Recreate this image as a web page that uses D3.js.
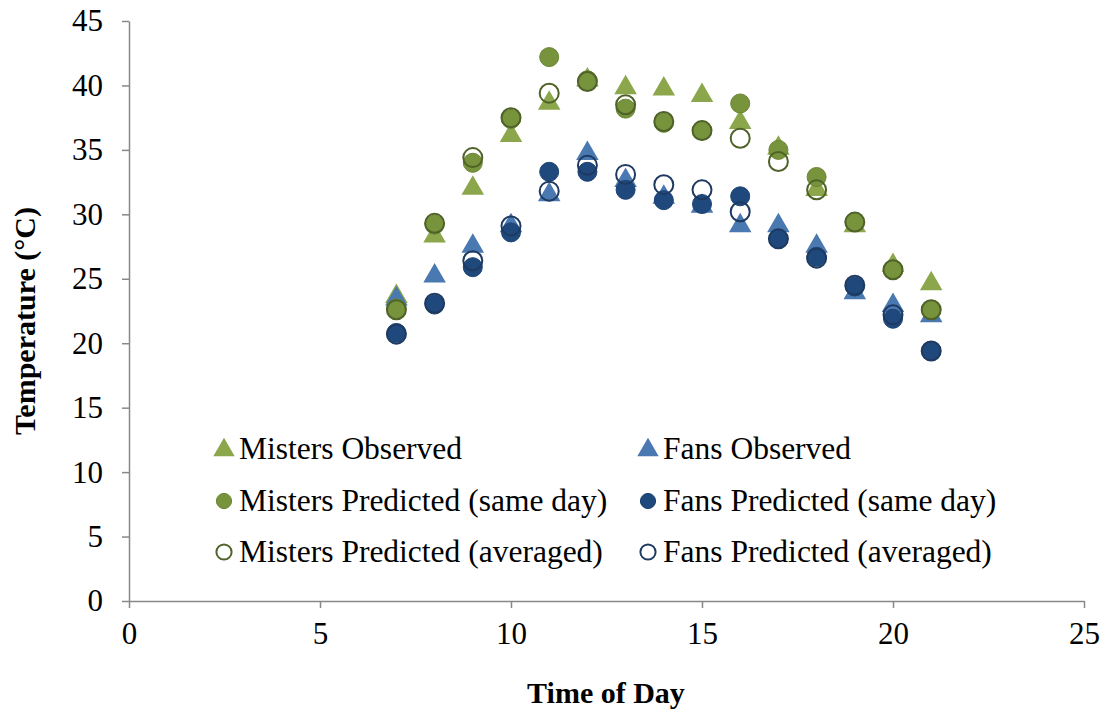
<!DOCTYPE html>
<html>
<head>
<meta charset="utf-8">
<script src="https://cdn.jsdelivr.net/npm/d3@7"></script>
<style>
  html, body { margin: 0; padding: 0; background: #fff; }
  svg { display: block; }
  text { font-family: "Liberation Serif", "Times New Roman", serif; fill: #000; }
</style>
</head>
<body>
<svg id="chart" width="1108" height="713"></svg>
<script>
const hours = [7, 8, 9, 10, 11, 12, 13, 14, 15, 16, 17, 18, 19, 20, 21];
const mistersObserved = [23.7, 28.4, 32.1, 36.2, 38.7, 40.5, 39.9, 39.8, 39.3, 37.2, 35.2, 32.0, 29.2, 26.1, 24.7];
const fansObserved = [23.5, 25.3, 27.6, 29.2, 31.6, 34.8, 32.7, 31.4, 30.7, 29.2, 29.2, 27.6, 24.0, 23.0, 22.2];
const mistersPredSame = [22.7, 29.2, 34.0, 37.4, 42.2, 40.4, 38.2, 37.1, 36.5, 38.6, 35.0, 32.9, 29.4, 25.7, 22.6];
const fansPredSame = [20.8, 23.0, 25.9, 28.6, 33.3, 33.3, 31.9, 31.1, 30.8, 31.4, 28.1, 26.7, 24.4, 21.9, 19.4];
const mistersPredAvg = [22.6, 29.3, 34.4, 37.5, 39.4, 40.3, 38.5, 37.2, 36.5, 35.9, 34.1, 31.9, 29.4, 25.7, 22.6];
const fansPredAvg = [20.7, 23.1, 26.4, 29.1, 31.8, 33.8, 33.1, 32.3, 31.9, 30.2, 28.1, 26.6, 24.5, 22.2, 19.4];
const xTicks = [0, 5, 10, 15, 20, 25];
const yTicks = [0, 5, 10, 15, 20, 25, 30, 35, 40, 45];

const series = [
  { name: "Misters Observed", values: mistersObserved, shape: "triangle", fill: "#8BA64B", stroke: "none" },
  { name: "Fans Observed", values: fansObserved, shape: "triangle", fill: "#4A78B0", stroke: "none" },
  { name: "Misters Predicted (same day)", values: mistersPredSame, shape: "circle", fill: "#77933C", stroke: "#6A8535" },
  { name: "Fans Predicted (same day)", values: fansPredSame, shape: "circle", fill: "#1F497D", stroke: "#1C4272" },
  { name: "Misters Predicted (averaged)", values: mistersPredAvg, shape: "circle", fill: "none", stroke: "#4F6228" },
  { name: "Fans Predicted (averaged)", values: fansPredAvg, shape: "circle", fill: "none", stroke: "#1F3A60" }
];

const svg = d3.select("#chart");
const x = d3.scaleLinear().domain([0, 25]).range([129, 1084]);
const y = d3.scaleLinear().domain([0, 45]).range([601, 21]);

const axisColor = "#888888";
const tickFont = 31;

// Y axis
const yAxis = svg.append("g").attr("transform", `translate(${x(0)},0)`)
  .call(d3.axisLeft(y).tickValues(yTicks).tickSize(7).tickSizeOuter(0).tickPadding(19));
yAxis.select(".domain").attr("stroke", axisColor).attr("stroke-width", 1.5);
yAxis.selectAll(".tick line").attr("stroke", axisColor).attr("stroke-width", 1.5);
yAxis.selectAll(".tick text").attr("font-size", tickFont).attr("font-family", "Liberation Serif, serif").attr("fill", "#000");

// X axis
const xAxis = svg.append("g").attr("transform", `translate(0,${y(0)})`)
  .call(d3.axisBottom(x).tickValues(xTicks).tickSize(7).tickSizeOuter(0).tickPadding(14));
xAxis.select(".domain").attr("stroke", axisColor).attr("stroke-width", 1.5);
xAxis.selectAll(".tick line").attr("stroke", axisColor).attr("stroke-width", 1.5);
xAxis.selectAll(".tick text").attr("font-size", tickFont).attr("font-family", "Liberation Serif, serif").attr("fill", "#000");

// Axis titles
svg.append("text")
  .attr("transform", `translate(35,${(y(0) + y(45)) / 2 + 10}) rotate(-90)`)
  .attr("text-anchor", "middle")
  .attr("font-size", 30).attr("font-weight", "bold")
  .text("Temperature (°C)");
svg.append("text")
  .attr("x", 606).attr("y", 703)
  .attr("text-anchor", "middle")
  .attr("font-size", 30).attr("font-weight", "bold")
  .text("Time of Day");

const triSize = 220; // area for d3.symbolTriangle
const circR = 9.5;

function drawMarker(g, s, cx, cy, scale) {
  if (s.shape === "triangle") {
    g.append("path")
      .attr("d", d3.symbol().type(d3.symbolTriangle).size(triSize * scale * scale)())
      .attr("transform", `translate(${cx},${cy + 1})`)
      .attr("fill", s.fill);
  } else {
    g.append("circle")
      .attr("cx", cx).attr("cy", cy).attr("r", circR * scale)
      .attr("fill", s.fill)
      .attr("stroke", s.stroke)
      .attr("stroke-width", s.fill === "none" ? 2 : 1);
  }
}

const plot = svg.append("g");
series.forEach(s => {
  const g = plot.append("g");
  hours.forEach((h, i) => drawMarker(g, s, x(h), y(s.values[i]), 1));
});

// Legend
const legend = svg.append("g");
const legendCols = [224, 648];
const legendRows = [449, 501, 552];
series.forEach((s, i) => {
  const col = i % 2, row = Math.floor(i / 2);
  const lx = legendCols[col], ly = legendRows[row];
  drawMarker(legend, s, lx, ly, s.shape === "triangle" ? 0.95 : 0.8);
  legend.append("text")
    .attr("x", lx + 15).attr("y", ly + 10)
    .attr("font-size", 31.5)
    .text(s.name);
});
</script>
</body>
</html>
